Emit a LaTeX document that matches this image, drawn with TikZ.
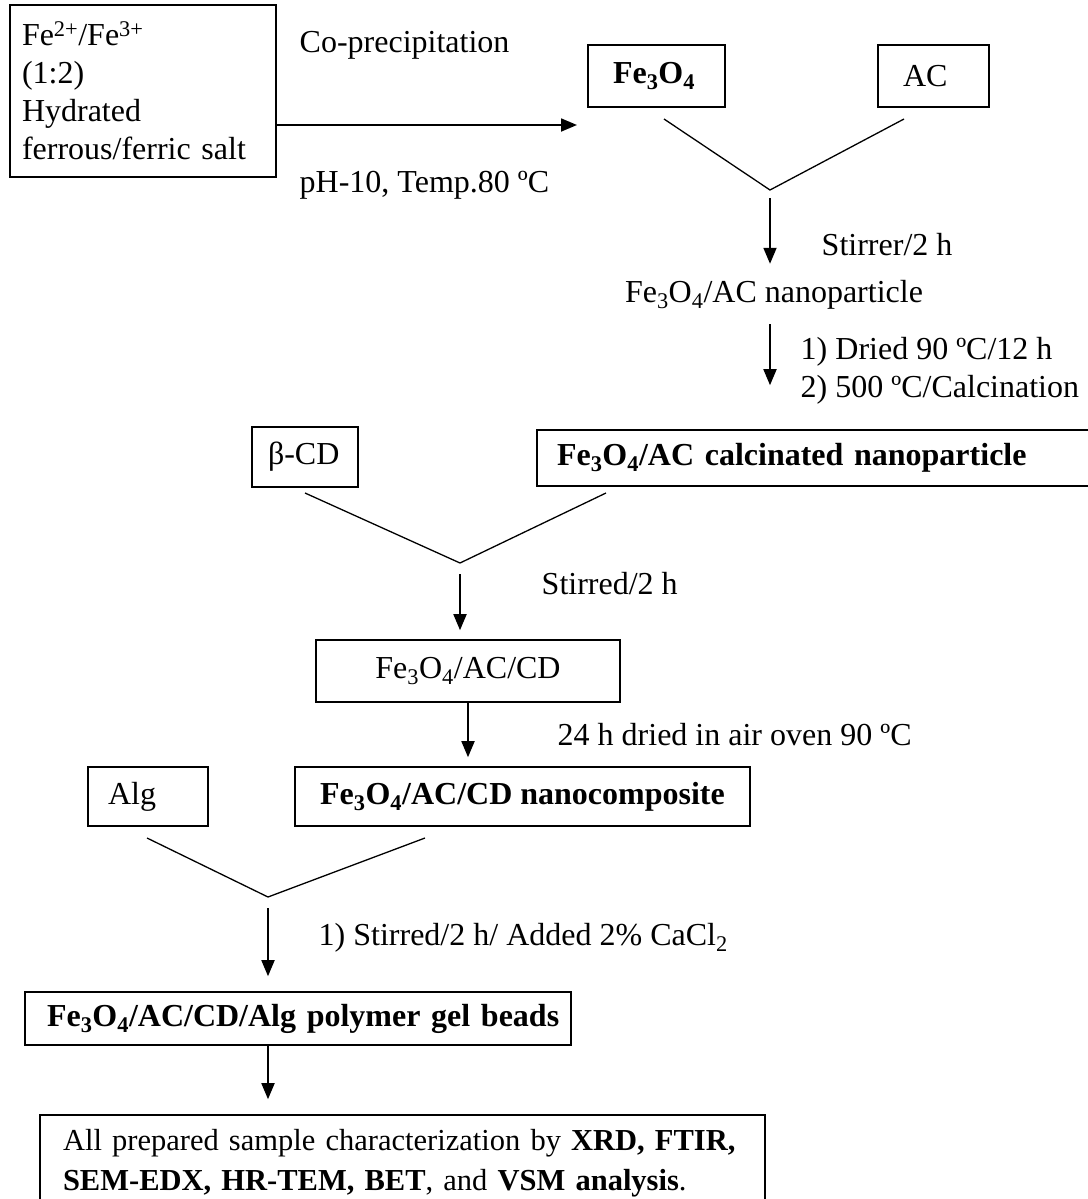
\documentclass[tikz,border=0pt]{standalone}
\usepackage{fontspec}
\setmainfont{Liberation Serif}
\usepackage{tikz}
\usetikzlibrary{positioning}
\usetikzlibrary{arrows.meta}
\usetikzlibrary{calc}

\newcommand{\diagfont}{\fontsize{32}{38}\selectfont}
\newcommand{\feo}{Fe\textsubscript{3}O\textsubscript{4}}

\begin{document}
\begin{tikzpicture}[x=1pt, y=-1pt, thick,
  every node/.style={font=\diagfont},
  box/.style={draw, line width=1.6pt, inner ysep=0pt},
  arr/.style={-{Triangle[length=16pt, width=13pt]}, line width=1.8pt},
  vline/.style={line width=1.3pt}]

\useasboundingbox (0,0) rectangle (1087,1199);

% boxes
\node[box, minimum width=266pt, minimum height=172pt, inner xsep=12pt, text width=242pt, align=left] (src) at (143,91)
  {Fe\textsuperscript{2+}/Fe\textsuperscript{3+}\\(1:2)\\Hydrated\\ferrous/ferric salt};
\node[box, minimum width=137pt, minimum height=62pt, inner xsep=25pt, text width=87pt, align=left] (fe) at (656.5,76) {\textbf{\feo}};
\node[box, minimum width=111pt, minimum height=62pt, inner xsep=25pt, text width=61pt, align=left] (ac) at (933.5,76) {AC};
\node (np) at (774,295) {\feo/AC nanoparticle};
\node[box, minimum width=106pt, minimum height=60pt, inner xsep=16pt, text width=74pt, align=left] (bcd) at (305,457) {\mbox{β-CD}};
\node[box, minimum width=570pt, minimum height=56pt, inner xsep=20pt, text width=530pt, align=left] (calc) at (822,458) {\mbox{\textbf{\feo/AC calcinated nanoparticle}}};
\node[box, minimum width=304pt, minimum height=62pt] (cd) at (468,671) {\feo/AC/CD};
\node[box, minimum width=120pt, minimum height=59pt, inner xsep=20pt, text width=80pt, align=left] (alg) at (148,796.5) {Alg};
\node[box, minimum width=455pt, minimum height=59pt] (nc) at (522.5,796.5) {\textbf{\feo/AC/CD nanocomposite}};
\node[box, minimum width=546pt, minimum height=53pt, inner xsep=22pt, text width=502pt, align=left] (gel) at (298,1018.5) {\mbox{\textbf{\feo/AC/CD/Alg polymer gel beads}}};
\node[box, minimum width=725pt, minimum height=96pt, inner xsep=23pt, text width=679pt, align=left, font=\fontsize{30.5}{40}\selectfont] (ana) at (402.5,1163)
  {All prepared sample characterization by \textbf{XRD, FTIR,}\\\textbf{SEM-EDX, HR-TEM, BET}, and \textbf{VSM analysis}.};

% labels
\node[anchor=west] (cop) at (296,45) {Co-precipitation};
\node[anchor=west] (ph) at (296,185) {pH-10, Temp.80 ºC};
\node[anchor=west] (stir1) at (818,245) {Stirrer/2 h};
\node[anchor=west, align=left] (dry) at (797,371) {1) Dried 90 ºC/12 h\\2) 500 ºC/Calcination};
\node[anchor=west] (stir2) at (538,584) {Stirred/2 h};
\node[anchor=west] (oven) at (554,735) {24 h dried in air oven 90 ºC};
\node[anchor=west] (stir3) at (315,938) {1) Stirred/2 h/ Added 2\% CaCl\textsubscript{2}};

% junction points
\coordinate (copend) at (577,125);
\coordinate (fe1) at (664,119);
\coordinate (ac1) at (904,119);
\coordinate (j1) at (770,190);
\coordinate (bcd1) at (305,493);
\coordinate (calc1) at (606,493);
\coordinate (j2) at (460,563);
\coordinate (alg1) at (147,838);
\coordinate (nc1) at (425,838);
\coordinate (j3) at (268,897);

% connectors
\draw[arr] (src.east |- copend) -- (copend);
\draw[vline] (fe1) -- (j1) -- (ac1);
\draw[arr, shorten <=8pt, shorten >=13pt] (j1) -- (j1 |- np.north);
\draw[arr, shorten <=11pt, shorten >=44pt] (np.south -| j1) -- (j1 |- calc.north);
\draw[vline] (bcd1) -- (j2) -- (calc1);
\draw[arr, shorten <=11pt, shorten >=9pt] (j2) -- (j2 |- cd.north);
\draw[arr, shorten >=9pt] (cd.south) -- (nc.north -| cd.south);
\draw[vline] (alg1) -- (j3) -- (nc1);
\draw[arr, shorten <=11pt, shorten >=15pt] (j3) -- (j3 |- gel.north);
\draw[arr, shorten >=15pt] (gel.south -| j3) -- (j3 |- ana.north);

\end{tikzpicture}
\end{document}
